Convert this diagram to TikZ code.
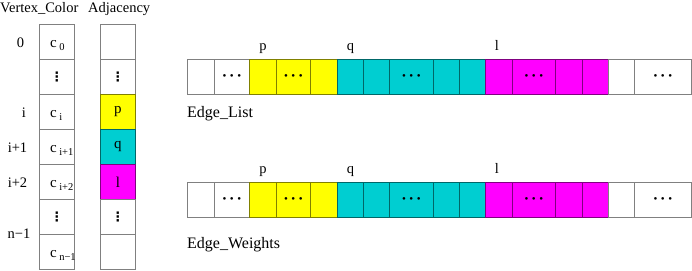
\documentclass[tikz,border=0pt]{standalone}
\usepackage{fontspec}
\setmainfont{Liberation Serif}
\newfontfamily\symfont{DejaVu Sans}
\usetikzlibrary{positioning}

\definecolor{cellyellow}{RGB}{255,255,0}
\definecolor{cellcyan}{RGB}{0,206,209}
\definecolor{cellmagenta}{RGB}{255,0,255}

% dots used inside the cells
\newcommand{\hdts}{\raisebox{-3pt}{\fontsize{11}{11}\selectfont\textbullet\hspace{3.5pt}\textbullet\hspace{3.5pt}\textbullet}}
\newcommand{\vdts}{\raisebox{-1pt}{\symfont\bfseries\fontsize{13}{13}\selectfont ⋮}}
\newcommand{\csub}[1]{c\hspace{2.5pt}\raisebox{-3pt}{\fontsize{10.5}{10.5}\selectfont #1}}

\begin{document}
\begin{tikzpicture}[x=1pt, y=-1pt,
    cell/.style={draw=#1!50!black, fill=#1, line width=0.8pt, inner sep=0pt,
                 anchor=north west, minimum height=35pt, font=\fontsize{15}{17}\selectfont},
    cell/.default=white,
    lbl/.style={inner sep=0pt, font=\fontsize{14.5}{16}\selectfont},
    title/.style={inner sep=0pt, font=\fontsize{16}{18}\selectfont}]
    \useasboundingbox (0,0) rectangle (692,270);

    % Column headers
    \node[lbl, anchor=base west] (vchead) at (0,12.5) {Vertex\_Color};
    \node[lbl, anchor=base west] (adhead) at (88,12.5) {Adjacency};

    % Vertex_Color column
    \foreach \r/\t in {0/{},1/\vdts,2/{},3/{},4/{},5/\vdts,6/{}}
        \node[cell, minimum width=35pt] (vc\r) at (39,24+35*\r) {\t};
    \foreach \r/\s in {0/0,2/i,3/i+1,4/i+2,6/n−1}
        \node[lbl, anchor=base west, font=\fontsize{15}{17}\selectfont] (c\r) at ([xshift=-7pt,yshift=-6pt]vc\r.center) {\csub{\s}};

    % row indices
    \node[lbl, anchor=base] (idx0) at (20.5,47.5) {0};
    \node[lbl, anchor=base] (idxi) at (24,117.5) {i};
    \node[lbl, anchor=base] (idxi1) at (17.5,152.5) {i+1};
    \node[lbl, anchor=base] (idxi2) at (17.5,187.5) {i+2};
    \node[lbl, anchor=base] (idxn) at (19,238) {n−1};

    % Adjacency column
    \foreach \r/\f/\t in {0/white/{},1/white/\vdts,2/cellyellow/p,3/cellcyan/q,
                          4/cellmagenta/l,5/white/\vdts,6/white/{}}
        \node[cell=\f, minimum width=35pt] (ad\r) at (100,24+35*\r) {\t};

    % Edge_List and Edge_Weights arrays
    \foreach \y/\n in {59/el,182/ew}{
        \foreach \a/\b/\f/\t [count=\k] in {187/214/white/{}, 214/249/white/\hdts,
                249/276/cellyellow/{}, 276/310/cellyellow/\hdts, 310/337/cellyellow/{},
                337/363/cellcyan/{}, 363/389/cellcyan/{}, 389/433/cellcyan/\hdts,
                433/459/cellcyan/{}, 459/485/cellcyan/{},
                485/512/cellmagenta/{}, 512/555/cellmagenta/\hdts,
                555/582/cellmagenta/{}, 582/608/cellmagenta/{},
                608/634/white/{}, 634/691/white/\hdts}{
            \pgfmathsetmacro\w{\b-\a}
            \node[cell=\f, minimum width=\w pt] (\n\k) at (\a,\y) {\t};
        }
        \node[lbl, anchor=base] (\n-p) at ([yshift=9pt]\n3.north) {p};
        \node[lbl, anchor=base] (\n-q) at ([yshift=9pt]\n6.north) {q};
        \node[lbl, anchor=base] (\n-l) at ([xshift=-2pt,yshift=9pt]\n11.north) {l};
    }

    % array names
    \node[title, anchor=base west] (elname) at ([yshift=-23pt]el1.south west) {Edge\_List};
    \node[title, anchor=base west] (ewname) at ([yshift=-31pt]ew1.south west) {Edge\_Weights};
\end{tikzpicture}
\end{document}
